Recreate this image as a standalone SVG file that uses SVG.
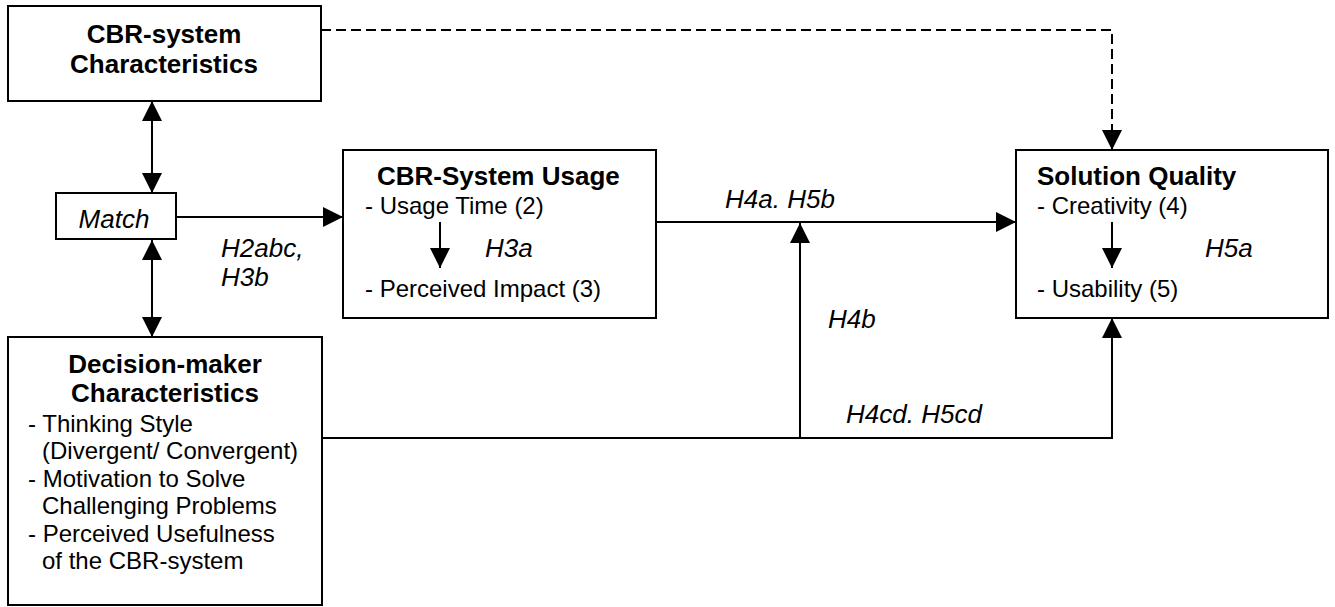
<svg xmlns="http://www.w3.org/2000/svg" width="1335" height="607" viewBox="0 0 1335 607">
<style>
.box{fill:#fff;stroke:#000;stroke-width:2}
.t{font-family:"Liberation Sans",Arial,sans-serif;font-size:24px;fill:#000}
.b{font-weight:bold;font-size:26px}
.i{font-style:italic;font-size:26px}
.c{stroke:#000;stroke-width:2;fill:none}
.d{stroke-dasharray:10,5}
</style>
<defs>
<marker id="ah" viewBox="0 0 20 20" refX="20" refY="10" markerWidth="20" markerHeight="20" markerUnits="userSpaceOnUse" orient="auto-start-reverse">
<path d="M0,0 L20,10 L0,20 z" fill="#000"/>
</marker>
</defs>
<g id="cbr-system">
<rect class="box" x="8" y="6" width="313" height="95"/>
<text class="t b" x="164" y="43" text-anchor="middle">CBR-system</text>
<text class="t b" x="164" y="73" text-anchor="middle">Characteristics</text>
</g>
<g id="match">
<rect class="box" x="56" y="193" width="120" height="46"/>
<text class="t i" x="114" y="228" text-anchor="middle">Match</text>
</g>
<g id="decision-maker">
<rect class="box" x="8" y="337" width="314" height="268"/>
<text class="t b" x="165" y="373" text-anchor="middle">Decision-maker</text>
<text class="t b" x="165" y="402" text-anchor="middle">Characteristics</text>
<text class="t" x="28" y="432">- Thinking Style</text>
<text class="t" x="42" y="459">(Divergent/ Convergent)</text>
<text class="t" x="28" y="487">- Motivation to Solve</text>
<text class="t" x="42" y="514">Challenging Problems</text>
<text class="t" x="28" y="542">- Perceived Usefulness</text>
<text class="t" x="42" y="569">of the CBR-system</text>
</g>
<g id="usage">
<rect class="box" x="343" y="150" width="313" height="168"/>
<text class="t b" x="377" y="185">CBR-System Usage</text>
<text class="t" x="365" y="214">- Usage Time (2)</text>
<text class="t" x="365" y="297">- Perceived Impact (3)</text>
</g>
<g id="solution-quality">
<rect class="box" x="1016" y="150" width="312" height="168"/>
<text class="t b" x="1037" y="185">Solution Quality</text>
<text class="t" x="1037" y="214">- Creativity (4)</text>
<text class="t" x="1037" y="297">- Usability (5)</text>
</g>
<g id="connectors">
<path class="c d" d="M321,30 H1112 V150" marker-end="url(#ah)"/>
<path class="c" d="M152,101 V193" marker-start="url(#ah)" marker-end="url(#ah)"/>
<path class="c" d="M152,240 V337" marker-start="url(#ah)" marker-end="url(#ah)"/>
<path class="c" d="M176,217 H343" marker-end="url(#ah)"/>
<path class="c" d="M656,222 H1016" marker-end="url(#ah)"/>
<path class="c" d="M322,438 H1112 V318" marker-end="url(#ah)"/>
<path class="c" d="M800,438 V223" marker-end="url(#ah)"/>
<path class="c" d="M440,222 V268" marker-end="url(#ah)"/>
<path class="c" d="M1112,222 V268" marker-end="url(#ah)"/>
<text class="t i" x="221" y="257">H2abc,</text>
<text class="t i" x="221" y="286">H3b</text>
<text class="t i" x="485" y="257">H3a</text>
<text class="t i" x="725" y="208">H4a. H5b</text>
<text class="t i" x="828" y="328">H4b</text>
<text class="t i" x="846" y="423">H4cd. H5cd</text>
<text class="t i" x="1205" y="257">H5a</text>
</g>
</svg>
